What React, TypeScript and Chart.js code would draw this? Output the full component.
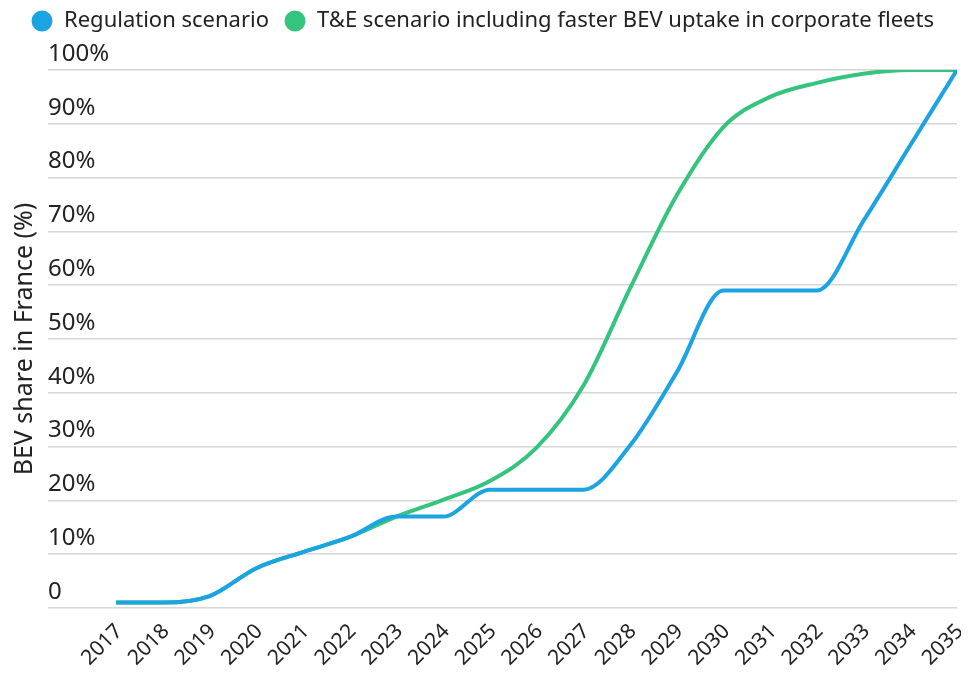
import React, { useEffect, useRef } from "react";
import { Chart, registerables } from "chart.js";

Chart.register(...registerables);

const years = [2017, 2018, 2019, 2020, 2021, 2022, 2023, 2024, 2025, 2026, 2027, 2028, 2029, 2030, 2031, 2032, 2033, 2034, 2035];
const regulation = [1, 1, 2.2, 7.4, 10.4, 13.2, 17, 17, 22, 22, 22, 30.2, 43.8, 59, 59, 59, 72, 86, 100];
const teScenario = [1, 1, 2.2, 7.4, 10.4, 13.2, 17, 20.1, 23.6, 29.8, 41.3, 59.4, 76.7, 89.4, 95, 97.6, 99.3, 100, 100];
const yTicks = [0, 10, 20, 30, 40, 50, 60, 70, 80, 90, 100];

const seriesNames = ["Regulation scenario", "T&E scenario including faster BEV uptake in corporate fleets"];
const seriesColors = ["#1BA3E2", "#34C47E"];

const FONT = "'Noto Sans', sans-serif";
const CHART_TOP = 62;
const TOP_PAD = -13;
const X_AXIS_HEIGHT = 59;

const legendSpacing = {
  id: "legendSpacing",
  beforeInit(chart: any) {
    const legend = chart.legend;
    if (!legend) return;
    const origFit = legend.fit;
    legend.fit = function () {
      origFit.call(this);
      this.height = CHART_TOP - TOP_PAD;
    };
  },
};

export default function App() {
  const ref = useRef<HTMLCanvasElement | null>(null);
  useEffect(() => {
    if (!ref.current) return;
    const mk = (vals: number[]) => years.map((y, i) => ({ x: y, y: vals[i] }));
    const chart = new Chart(ref.current, {
      type: "line",
      data: {
        datasets: [
          {
            label: seriesNames[0],
            data: mk(regulation),
            borderColor: seriesColors[0],
            backgroundColor: seriesColors[0],
            borderWidth: 4,
            pointRadius: 0,
            cubicInterpolationMode: "monotone",
          },
          {
            label: seriesNames[1],
            data: mk(teScenario),
            borderColor: seriesColors[1],
            backgroundColor: seriesColors[1],
            borderWidth: 4,
            pointRadius: 0,
            cubicInterpolationMode: "monotone",
          },
        ],
      },
      plugins: [legendSpacing],
      options: {
        animation: false,
        responsive: false,
        maintainAspectRatio: false,
        layout: { padding: { left: 0, right: 4, top: TOP_PAD, bottom: 0 } },
        plugins: {
          legend: {
            position: "top",
            labels: {
              usePointStyle: true,
              pointStyle: "circle",
              boxWidth: 22,
              boxHeight: 12,
              padding: 15,
              color: "#222",
              font: { family: FONT, size: 22 },
            },
          },
          tooltip: { enabled: false },
        },
        scales: {
          x: {
            type: "linear",
            min: 2015.54,
            max: 2035,
            afterBuildTicks: (axis: any) => {
              axis.ticks = years.map((v) => ({ value: v }));
            },
            afterFit: (axis: any) => {
              axis.paddingLeft = 0;
              axis.paddingRight = 0;
              axis.paddingTop = 0;
              axis.paddingBottom = 0;
              axis.height = X_AXIS_HEIGHT;
            },
            grid: { display: false, drawTicks: false },
            border: { display: false },
            ticks: {
              autoSkip: false,
              minRotation: 45,
              maxRotation: 45,
              padding: 11,
              labelOffset: 3,
              color: "#222",
              font: { family: FONT, size: 21 },
              callback: (v: any) => String(v),
            },
          },
          y: {
            min: 0,
            max: 100,
            afterBuildTicks: (axis: any) => {
              axis.ticks = yTicks.map((v) => ({ value: v }));
            },
            grid: { color: "#d6d6d6", lineWidth: 1.5, drawTicks: false },
            border: { display: false },
            ticks: {
              mirror: true,
              padding: 0,
              labelOffset: -16,
              color: "#222",
              font: { family: FONT, size: 24 },
              callback: (v: any) => (v === 0 ? "0" : v + "%"),
            },
            title: {
              display: true,
              text: "BEV share in France (%)",
              color: "#222",
              font: { family: FONT, size: 25 },
              padding: { top: 2, bottom: 8 },
            },
          },
        },
      },
    });
    return () => chart.destroy();
  }, []);
  return (
    <div style={{ width: 953, height: 659 }}>
      <canvas ref={ref} width={953} height={659} style={{ display: "block" }} />
    </div>
  );
}
